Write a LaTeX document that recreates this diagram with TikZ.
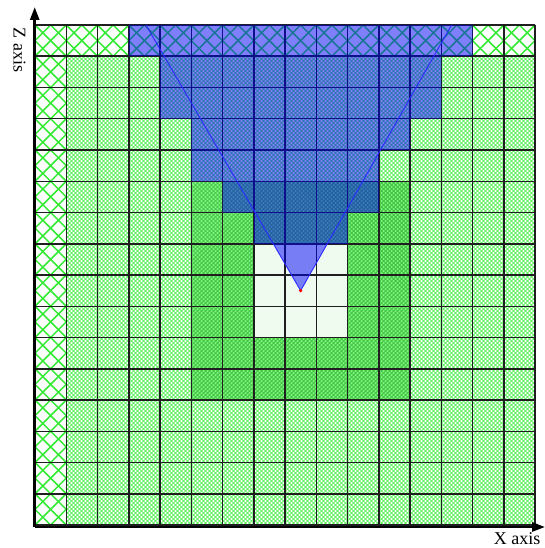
\documentclass[tikz,border=0pt]{standalone}
\usepackage{fontspec}
\setmainfont{Liberation Serif}
\usetikzlibrary{calc,arrows.meta}
\definecolor{hatchgreen}{HTML}{33EA33}
\definecolor{deepgreen}{HTML}{34BE34}
\definecolor{solidgreen}{HTML}{84F284}
\definecolor{palegreen}{HTML}{EFFBEF}
\definecolor{conefill}{HTML}{0000FA}
\definecolor{vcolor}{HTML}{2A2AFF}
\tikzset{
  sparsehatch/.style={draw=hatchgreen, line width=1.5pt},
  densehatch/.style={draw=hatchgreen, line width=0.55pt},
  deephatch/.style={draw=deepgreen, line width=0.7pt},
  gridline/.style={draw=black!88, line width=1.5pt},
  overlay blue/.style={fill=conefill, opacity=0.5},
  vline/.style={draw=vcolor, line width=0.9pt},
  axisline/.style={draw=black, line width=2.6pt, -{Triangle[length=13pt,width=9pt]}},
  axislabel/.style={font=\fontsize{18}{20}\selectfont, inner sep=0pt},
}
\begin{document}
\begin{tikzpicture}[x=1pt,y=-1pt]
\useasboundingbox (0,0) rectangle (544,548);
\fill[white] (0,0) rectangle (544,548);
% fine hatch, drawn in pixel units so that its period is a whole number of pixels
\begin{scope}
  \clip (66.25,56.25) rectangle (535,525);
  \foreach \k in {-130,...,130} \draw[densehatch] (\k*4+35.5,25) -- ++(500,500);
  \foreach \k in {0,...,265} \draw[densehatch] (\k*4+35.5,25) -- ++(-500,500);
\end{scope}
\begin{scope}
  \clip (191.25,181.25) rectangle (410,400);
  \fill[solidgreen] (191.25,181.25) rectangle (410,400);
  \foreach \k in {-60,...,60} \draw[deephatch] (\k*4+35.5,25) -- ++(500,500);
  \foreach \k in {80,...,200} \draw[deephatch] (\k*4+35.5,25) -- ++(-500,500);
\end{scope}
\begin{scope}[shift={(35,25)}, x=31.25pt, y=-31.25pt]
  % sparse hatch on outer row and column
  \begin{scope}
    \clip (0,0) rectangle (1,16) (1,0) rectangle (16,1);
    \foreach \k in {-32,...,32} \draw[sparsehatch] (\k*0.5,0) -- ++(16,16);
    \foreach \k in {0,...,64} \draw[sparsehatch] (\k*0.5,0) -- ++(-16,16);
  \end{scope}
  % pale centre cells
  \fill[palegreen] (7,7) rectangle (10,10);
  % grid
  \foreach \i in {0,...,16} {
    \draw[gridline] (\i,0) -- (\i,16);
    \draw[gridline] (0,\i) -- (16,\i);
  }
  % cone
  \coordinate (A) at (8.5,8.5);
  \coordinate (TL) at (3.55,0);
  \coordinate (TR) at (13.33,0);
  \coordinate (BL) at ($(TL)!0.82353!(A)$);
  \coordinate (BR) at ($(TR)!0.82353!(A)$);
  \fill[overlay blue]
    (3,0) rectangle (14,1)
    (4,1) rectangle (13,3)
    (5,3) rectangle (12,4)
    (5,4) rectangle (11,5)
    (6,5) rectangle (11,6)
    (7,6) rectangle (10,7)
    (BL) -- (A) -- (BR) -- cycle;
  \draw[vline] (TL) -- (A) -- (TR);
  \fill[red] (A) circle (1.8pt);
\end{scope}
% axes
\coordinate (O) at (34.7,527);
\coordinate (Ztip) at (34.7,7);
\coordinate (Xtip) at (545,527);
\draw[axisline] (O) -- (Ztip);
\draw[axisline] (O) -- (Xtip);
\node[axislabel, rotate=-90] (zlabel) at (19.5,50) {Z axis};
\node[axislabel, anchor=base] (xlabel) at (517,544) {X axis};
\end{tikzpicture}
\end{document}
